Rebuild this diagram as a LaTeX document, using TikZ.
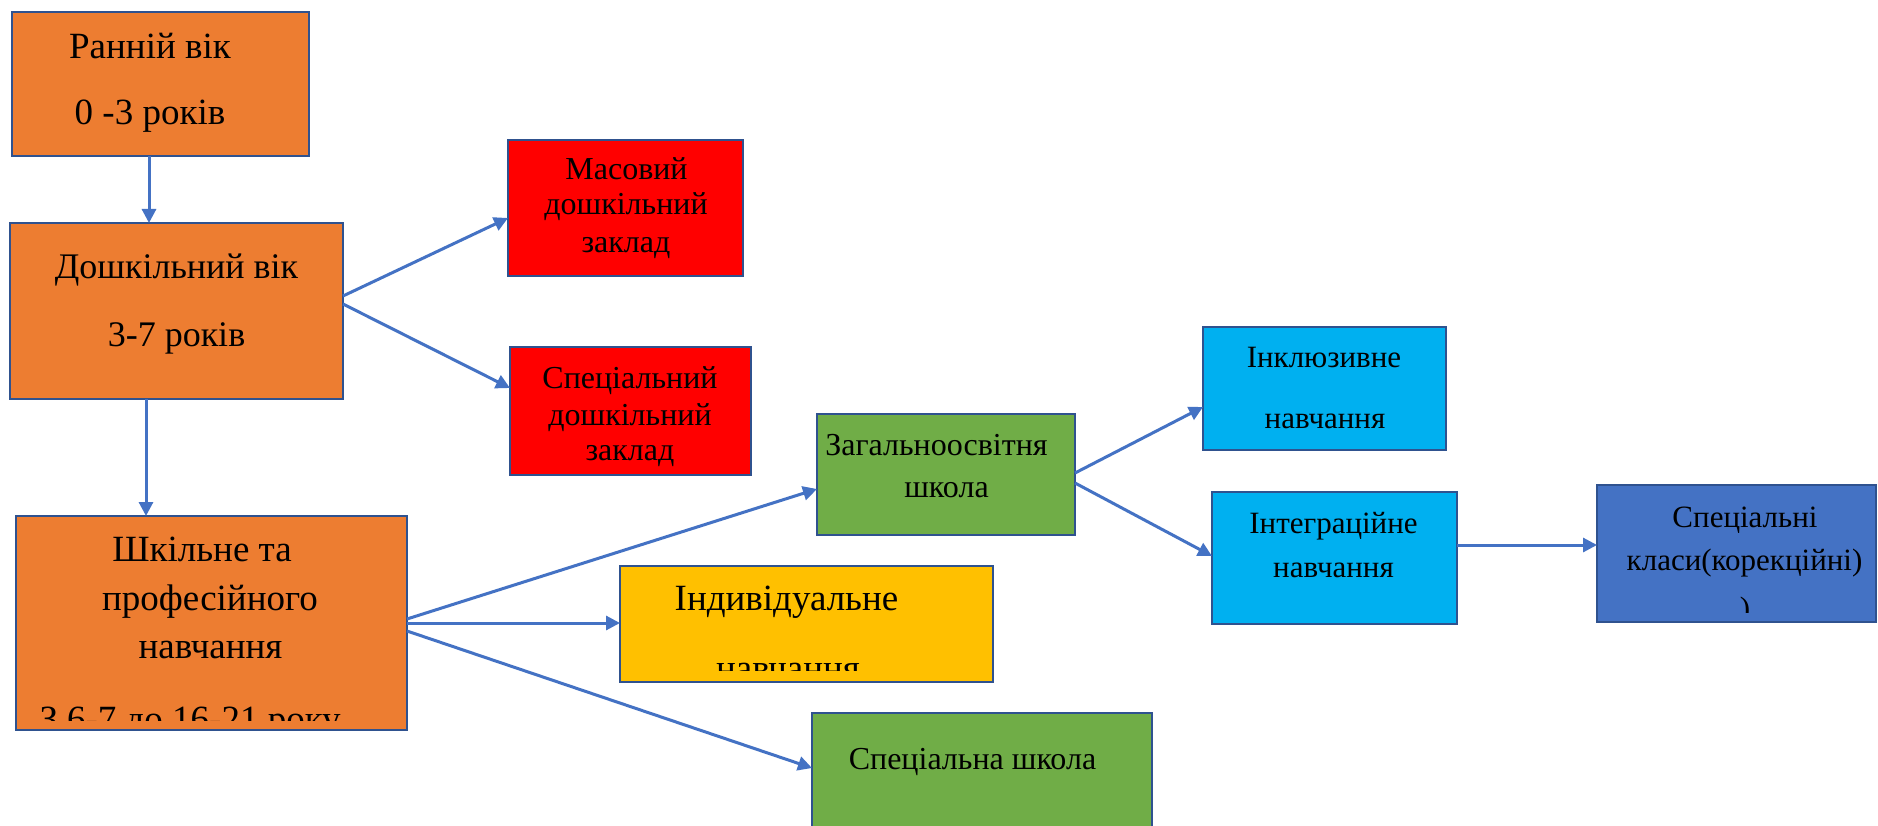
\documentclass[tikz,border=0pt]{standalone}
\usepackage{fontspec}
\setmainfont{Liberation Serif}
\usetikzlibrary{arrows.meta}
\definecolor{cOrange}{HTML}{ED7D31}
\definecolor{cRed}{HTML}{FF0000}
\definecolor{cGreen}{HTML}{70AD47}
\definecolor{cYellow}{HTML}{FFC000}
\definecolor{cCyan}{HTML}{00B0F0}
\definecolor{cBlue}{HTML}{4472C4}
\definecolor{cBorder}{HTML}{2F528F}
\definecolor{cArrow}{HTML}{4472C4}
\tikzset{
  box/.style={draw=cBorder, line width=2.5pt, inner sep=0pt, outer sep=0pt, anchor=north west, rectangle},
  txt/.style={anchor=base, inner sep=0pt, text=black},
  big/.style={txt, font=\fontsize{37}{40}\selectfont},
  mid/.style={txt, font=\fontsize{36}{40}\selectfont},
  sml/.style={txt, font=\fontsize{32}{36}\selectfont},
  tny/.style={txt, font=\fontsize{31}{35}\selectfont},
  arr/.style={draw=cArrow, line width=3pt, -{Triangle[length=14pt,width=14pt]}},
}
\begin{document}
\begin{tikzpicture}[x=1pt,y=-1pt]
\useasboundingbox (0,0) rectangle (1878,826);
\fill[white] (0,0) rectangle (1878,826);

% boxes
\node[box, fill=cOrange, minimum width=297pt, minimum height=144pt] (ranni) at (12,12) {};
\node[box, fill=cOrange, minimum width=333pt, minimum height=176pt] (dosh) at (10,223) {};
\node[box, fill=cOrange, minimum width=391pt, minimum height=214pt] (shk) at (16,516) {};
\node[box, fill=cRed, minimum width=235pt, minimum height=136pt] (masov) at (508,140) {};
\node[box, fill=cRed, minimum width=241pt, minimum height=128pt] (specd) at (510,347) {};
\node[box, fill=cGreen, minimum width=258pt, minimum height=121pt] (zag) at (817,414) {};
\node[box, fill=cYellow, minimum width=373pt, minimum height=116pt] (indiv) at (620,566) {};
\node[box, fill=cGreen, minimum width=340pt, minimum height=130pt] (specsch) at (812,713) {};
\node[box, fill=cCyan, minimum width=243pt, minimum height=123pt] (inkl) at (1203,327) {};
\node[box, fill=cCyan, minimum width=245pt, minimum height=132pt] (integ) at (1212,492) {};
\node[box, fill=cBlue, minimum width=279pt, minimum height=137pt] (speccl) at (1597,485) {};

% texts
\node[big] (t1a) at (150,59) {Ранній вік};
\node[big] (t1b) at (150,125) {0 -3 років};
\node[mid] (t2a) at (176.5,278) {Дошкільний вік};
\node[mid] (t2b) at (176.5,346) {3-7 років};
\node[big] (t3a) at (202,561) {Шкільне та};
\node[big] (t3b) at (210,610) {професійного};
\node[big] (t3c) at (210.5,658) {навчання};
\begin{scope}
\clip (18,518) rectangle (405,720);
\node[big] (t3d) at (190,731) {З 6-7 до 16-21 року};
\end{scope}
\node[sml] (t4a) at (626.5,180) {Масовий};
\node[sml] (t4b) at (626,215) {дошкільний};
\node[sml] (t4c) at (626,253) {заклад};
\node[sml] (t5a) at (630,388) {Спеціальний};
\node[sml] (t5b) at (630,425) {дошкільний};
\node[sml] (t5c) at (630,460) {заклад};
\node[sml] (t6a) at (936.5,455) {Загальноосвітня};
\node[sml] (t6b) at (946.5,497) {школа};
\node[big] (t7a) at (786.5,610) {Індивідуальне};
\begin{scope}
\clip (622,568) rectangle (991,670);
\node[big] (t7b) at (788,680) {навчання};
\end{scope}
\node[sml] (t8a) at (972.5,769) {Спеціальна школа};
\node[tny] (t9a) at (1324,367) {Інклюзивне};
\node[tny] (t9b) at (1325,428) {навчання};
\node[tny] (t10a) at (1333.5,533) {Інтеграційне};
\node[tny] (t10b) at (1333.5,577) {навчання};
\node[tny] (t11a) at (1745,527) {Спеціальні};
\node[tny] (t11b) at (1744.5,570) {класи(корекційні)};
\begin{scope}
\clip (1599,487) rectangle (1876,612);
\node[tny] (t11c) at (1745,618) {)};
\end{scope}

% connectors
\draw[arr] ([xshift=-11.5pt]ranni.south) -- ([xshift=-11.5pt]ranni.south |- dosh.north);
\draw[arr] ([xshift=-30.5pt]dosh.south) -- ([xshift=-30.5pt]dosh.south |- shk.north);
\draw[arr] ([yshift=15pt]dosh.east) -- ([yshift=-10pt]masov.west);
\draw[arr] ([yshift=7pt]dosh.east) -- ([yshift=23pt]specd.west);
\draw[arr] ([yshift=4pt]shk.east) -- ([yshift=-14.5pt]zag.west);
\draw[arr] (shk.east) -- (shk.east -| indiv.west);
\draw[arr] ([yshift=-8pt]shk.east) -- ([yshift=-55pt]specsch.north west);
\draw[arr] ([yshift=1.5pt]zag.east) -- ([yshift=-18.5pt]inkl.west);
\draw[arr] ([yshift=-8.5pt]zag.east) -- ([yshift=2pt]integ.west);
\draw[arr] ([yshift=13pt]integ.east) -- ([yshift=13pt]integ.east -| speccl.west);
\end{tikzpicture}
\end{document}
